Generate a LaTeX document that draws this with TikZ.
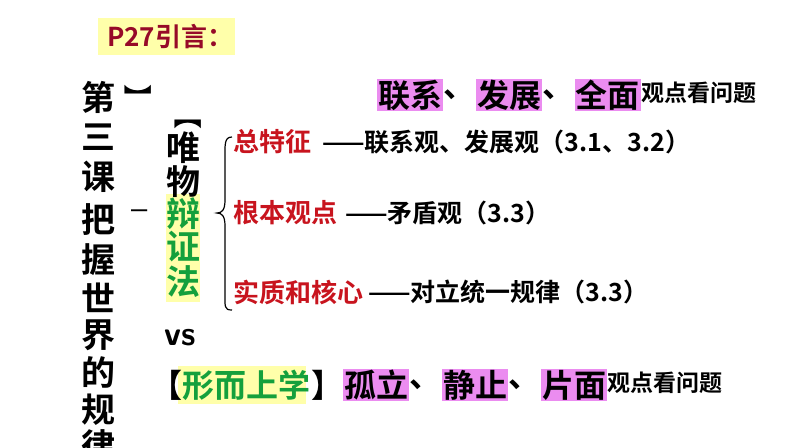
\documentclass[tikz,border=0pt]{standalone}
\usepackage{fontspec}
\newfontfamily\cjk{Noto Sans CJK SC Bold}
\definecolor{dred}{RGB}{150,10,40}
\definecolor{hred}{RGB}{200,20,30}
\definecolor{hgreen}{RGB}{20,160,60}
\definecolor{hpink}{RGB}{235,140,240}
\definecolor{hyel}{RGB}{255,255,170}
\tikzset{
 t/.style={inner sep=0pt,anchor=west,font=\cjk\fontsize{#1}{#1}\selectfont},
 big/.style={t=32},
 mid/.style={t=25},
 pk/.style={fill=hpink,inner sep=1pt},
 vc/.style={inner sep=0pt,font=\cjk\fontsize{34}{34}\selectfont}
}
\begin{document}
\begin{tikzpicture}[x=1pt,y=-1pt]
\useasboundingbox[fill=white] (0,0) rectangle (794,447);
\node[fill=hyel,minimum width=137,minimum height=37,anchor=north west,inner sep=0pt] (hb) at (98,18) {};
\node[t=26,text=dred] (p27) at (107,37) {P27引言：};
% vertical title
\foreach \c/\y [count=\i] in {第/97,三/137,课/177,把/220,握/260,世/298,界/335,的/372,规/410,律/446}
  \node[vc] (v\i) at (98,\y) {\c};
\node[t=28,rotate=-90,anchor=center] (rb) at (138,98) {】};
\node[t=28,rotate=-90,anchor=center] (lb) at (188,115) {【};
\node[t=20,anchor=center] (dash) at (140,213) {—};
% 唯物辩证法
\node[fill=hyel,minimum width=34,minimum height=108,inner sep=0pt] (gb) at (183,248) {};
\foreach \c/\y/\col [count=\i] in {唯/148/black,物/182/black,辩/214/hgreen,证/247/hgreen,法/282/hgreen}
  \node[vc,text=\col] (w\i) at (183,\y) {\c};
\draw[line width=1.2pt] (232,137) .. controls (224,137) and (225,145) .. (225,160) -- (225,200) .. controls (225,210) and (222,213) .. (217,213) .. controls (222,213) and (225,216) .. (225,226) -- (225,292) .. controls (225,307) and (224,310) .. (232,310);
\node[t=26,text=hred] (a1) at (233,142) {总特征};
\node[mid] (b1) at (322,142) {——联系观、发展观（3.1、3.2）};
\node[t=26,text=hred] (a2) at (233,213) {根本观点};
\node[mid] (b2) at (345,213) {——矛盾观（3.3）};
\node[t=26,text=hred] (a3) at (233,292) {实质和核心};
\node[mid] (b3) at (368,292) {——对立统一规律（3.3）};
% top line
\node[big,pk] (c1) at (377,95) {联系};
\node[big,anchor=west] (c2) at (c1.east) {、};
\node[big,pk,anchor=west] (c3) at (c2.east) {发展};
\node[big,anchor=west] (c4) at (c3.east) {、};
\node[big,pk,anchor=west] (c5) at (c4.east) {全面};
\node[t=23,anchor=west] (c6) at ([yshift=2]c5.east) {观点看问题};
\node[font=\bfseries\sffamily\fontsize{34}{34}\selectfont,inner sep=0pt,anchor=west] (vs) at (164,338) {vs};
% bottom line
\node[fill=hyel,minimum width=128,minimum height=38,inner sep=0pt,anchor=west] (yb) at (178,385) {};
\node[big] (d0) at (150,385) {【};
\node[big,text=hgreen,anchor=west] (d1) at (d0.east) {形而上学};
\node[big,anchor=west] (d2) at (d1.east) {】};
\node[big,pk,anchor=west] (d3) at (d2.east) {孤立};
\node[big,anchor=west] (d4) at (d3.east) {、};
\node[big,pk,anchor=west] (d5) at (d4.east) {静止};
\node[big,anchor=west] (d6) at (d5.east) {、};
\node[big,pk,anchor=west] (d7) at (d6.east) {片面};
\node[t=23,anchor=west] (d8) at ([yshift=2]d7.east) {观点看问题};
\end{tikzpicture}
\end{document}
